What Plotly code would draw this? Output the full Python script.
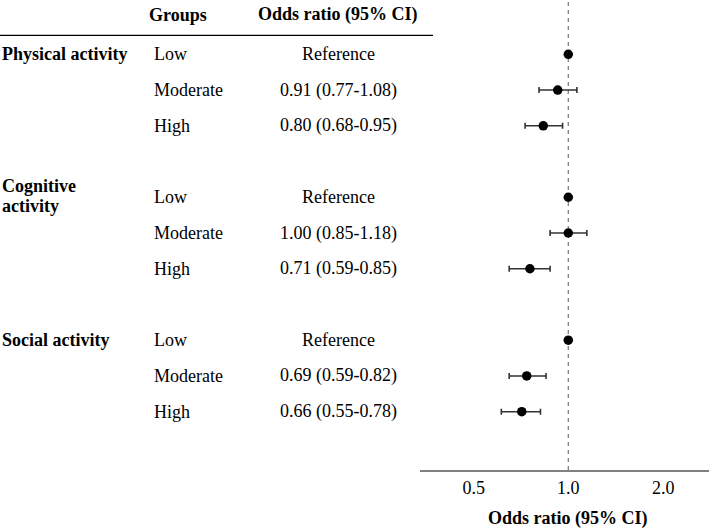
import math
import plotly.graph_objects as go

# ---- data ----
domains = ["Physical activity", "Cognitive activity", "Social activity"]
groups = ["Low", "Moderate", "High"]
or_text = [
    ["Reference", "0.91 (0.77-1.08)", "0.80 (0.68-0.95)"],
    ["Reference", "1.00 (0.85-1.18)", "0.71 (0.59-0.85)"],
    ["Reference", "0.69 (0.59-0.82)", "0.66 (0.55-0.78)"],
]
or_val = [[1.00, 0.91, 0.80], [1.00, 1.00, 0.71], [1.00, 0.69, 0.66]]
ci_low = [[None, 0.77, 0.68], [None, 0.85, 0.59], [None, 0.59, 0.55]]
ci_high = [[None, 1.08, 0.95], [None, 1.18, 0.85], [None, 0.82, 0.78]]
tick_labels = ["0.5", "1.0", "2.0"]
tick_positions = [0.43, 1.0, 2.335]

W, H = 709, 529
FONT = "Liberation Serif"
FS = 18

fig = go.Figure()

ys, xs, ep, em = [], [], [], []
ref_y, ref_x = [], []
annotations = []


def txt(x, y, text, anchor="left", yshift=0, xref="paper", yref="y"):
    return dict(x=x, y=y, xref=xref, yref=yref, text=text, showarrow=False,
                xanchor=anchor, yanchor="middle", yshift=yshift,
                font=dict(family=FONT, size=FS, color="black"))


for d, dname in enumerate(domains):
    for g, gname in enumerate(groups):
        r = d * 4 + g
        v = or_val[d][g]
        if ci_low[d][g] is None:
            ref_y.append(r)
            ref_x.append(v)
        else:
            ys.append(r)
            xs.append(v)
            ep.append(ci_high[d][g] - v)
            em.append(v - ci_low[d][g])
        annotations.append(txt(152 / W, r, gname))
        annotations.append(txt(338 / W, r, or_text[d][g], anchor="center"))
    r0 = d * 4
    words = dname.split(" ")
    if d == 1:
        annotations.append(txt(0, r0, "<b>%s</b>" % words[0], yshift=11))
        annotations.append(txt(0, r0, "<b>%s</b>" % words[1], yshift=-9))
    else:
        annotations.append(txt(0, r0, "<b>%s</b>" % dname))

# headers
annotations.append(txt(147 / W, -1.1, "<b>Groups</b>"))
annotations.append(txt(338 / W, -1.1, "<b>Odds ratio (95% CI)</b>", anchor="center"))
# axis title (log axis: annotation x given in log10 units)
annotations.append(txt(math.log10(1.0), -0.104, "<b>Odds ratio (95% CI)</b>",
                       anchor="center", xref="x", yref="paper"))

fig.add_trace(go.Scatter(
    x=xs, y=ys, mode="markers",
    marker=dict(color="black", size=9.5),
    error_x=dict(type="data", symmetric=False, array=ep, arrayminus=em,
                 color="#333333", thickness=1.6, width=3),
    showlegend=False, cliponaxis=False,
))
fig.add_trace(go.Scatter(
    x=ref_x, y=ref_y, mode="markers",
    marker=dict(color="black", size=9.5),
    showlegend=False, cliponaxis=False,
))

# reference line at OR = 1
fig.add_shape(type="line", xref="x", yref="paper", x0=1, x1=1, y0=0, y1=1,
              line=dict(color="#808080", width=1.3, dash="4px,4px"), layer="below")
# header rule
fig.add_shape(type="line", xref="paper", yref="paper", x0=0, x1=433 / W,
              y0=(470 - 35.3) / 470, y1=(470 - 35.3) / 470,
              line=dict(color="black", width=1.2))

fig.update_layout(
    width=W, height=H,
    margin=dict(l=0, r=0, t=0, b=59, pad=0),
    paper_bgcolor="white", plot_bgcolor="white",
    annotations=annotations,
    xaxis=dict(type="log", domain=[420 / W, 1], range=[-0.575, 0.5456],
               showgrid=False, zeroline=False, showline=True, linecolor="#808080", linewidth=2,
               ticks="", tickvals=tick_positions, ticktext=tick_labels,
               tickfont=dict(family=FONT, size=FS, color="black")),
    yaxis=dict(range=[11.631, -1.519], visible=False, showgrid=False, zeroline=False),
)

fig.write_html("out.html")
